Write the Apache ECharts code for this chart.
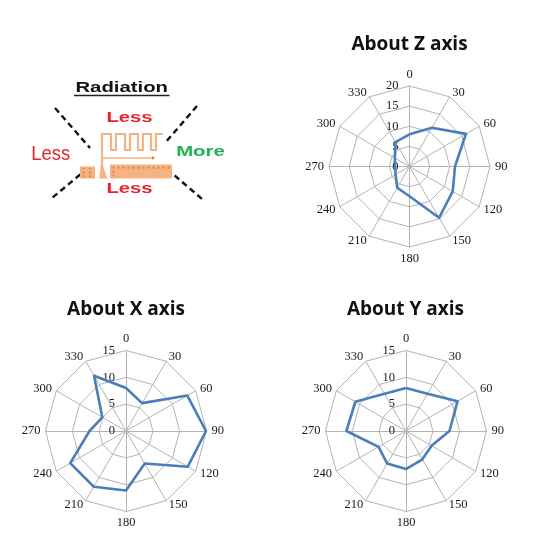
<!DOCTYPE html>
<html>
<head>
<meta charset="utf-8">
<script src="https://cdn.jsdelivr.net/npm/echarts@6/dist/echarts.min.js"></script>
<style>html,body{margin:0;padding:0;background:#fff}#c{width:550px;height:542px}</style>
</head>
<body>
<div id="c"></div>
<script>
// ---- data ----
const angleLabels = ['0','30','60','90','120','150','180','210','240','270','300','330'];
const zTitle = 'About Z axis';
const xTitle = 'About X axis';
const yTitle = 'About Y axis';
const zMax = 20;
const xMax = 15;
const yMax = 15;
const zValues = [8, 11.1, 16.2, 11.3, 12.4, 14.7, 7.4, 6.1, 4.0, 3.6, 4.2, 7.0];
const xValues = [8, 6.0, 13.2, 14.9, 13.3, 7.0, 11.1, 12.0, 12.0, 6.8, 5.1, 11.9];
const yValues = [8, 8.0, 11.1, 8.1, 5.5, 6.1, 7.1, 7.0, 5.9, 11.1, 10.9, 8.0];
const diagramTitle = 'Radiation';
const diagramWords = ['Less', 'Less', 'More', 'Less'];

// ECharts radar runs counter-clockwise; reorder so the chart reads clockwise
const order = angleLabels.map((_, i) => (angleLabels.length - i) % angleLabels.length);

const GRID = '#B4B4B4';
const LINE = '#4A7EBB';
const LABEL_FONT = 'Liberation Serif';

function makeRadar(center, max) {
  return {
    center: center,
    radius: 80.5,
    startAngle: 90,
    shape: 'polygon',
    splitNumber: max / 5,
    indicator: order.map((k, i) => {
      const ind = { name: angleLabels[k], min: 0, max: max };
      if (i === 0) ind.axisLabel = { show: true };
      return ind;
    }),
    axisName: { color: '#1a1a1a', fontFamily: LABEL_FONT, fontSize: 12.5 },
    nameGap: 5,
    splitLine: { lineStyle: { color: GRID, width: 1 } },
    splitArea: { show: false },
    axisLine: { lineStyle: { color: GRID, width: 1 } },
    axisTick: { show: false },
    axisLabel: { show: false, color: '#1a1a1a', fontFamily: LABEL_FONT, fontSize: 12.5, margin: 11 }
  };
}

function makeSeries(idx, values) {
  return {
    type: 'radar',
    radarIndex: idx,
    symbol: 'none',
    silent: true,
    lineStyle: { color: LINE, width: 2.6 },
    data: [{ value: order.map(k => values[k]) }]
  };
}

const ORANGE = '#F5B382';
const DOT = '#E0813E';
const graphics = [];
function txt(text, x, y, font, fill, sx) {
  graphics.push({ type: 'text', x: x, y: y, scaleX: sx || 1, style: { text: text, font: font, fill: fill, align: 'center', verticalAlign: 'middle' } });
}
// chart titles
txt(zTitle, 409.5, 44.5, 'bold 19px "Open Sans"', '#111');
txt(xTitle, 126, 310, 'bold 19px "Open Sans"', '#111');
txt(yTitle, 405.5, 310, 'bold 19px "Open Sans"', '#111');
// diagram
txt(diagramTitle, 121.7, 88.5, 'bold 14px "Liberation Sans"', '#111', 1.45);
graphics.push({ type: 'line', shape: { x1: 74, y1: 95.5, x2: 169.5, y2: 95.5 }, style: { stroke: '#222', lineWidth: 1.3 } });
txt(diagramWords[0], 129.5, 117.5, 'bold 15px "Liberation Sans"', '#E8232B', 1.35);
txt(diagramWords[1], 50.8, 154, '20px "Liberation Sans"', '#E8232B', 0.92);
txt(diagramWords[2], 200.5, 152, 'bold 15px "Liberation Sans"', '#1EAF4E', 1.36);
txt(diagramWords[3], 129.5, 188.5, 'bold 15px "Liberation Sans"', '#E8232B', 1.35);
// dashed lines
[[55,108,90,148],[88,168,52,198],[197,106,165,143],[167,169,202,199]].forEach(s => {
  graphics.push({ type: 'line', shape: { x1: s[0], y1: s[1], x2: s[2], y2: s[3] }, style: { stroke: '#111', lineWidth: 2.4, lineDash: [6, 4] } });
});
// antenna meander
graphics.push({ type: 'polyline', shape: { points: [
  [102,167],[102,134],[111,134],[111,150],[116,150],[116,134],[125,134],[125,150],[130,150],[130,134],
  [138,134],[138,150],[143,150],[143,134],[151,134],[151,150],[156,150],[156,134],[163,134]
] }, style: { stroke: ORANGE, lineWidth: 2.2, fill: null } });
graphics.push({ type: 'line', shape: { x1: 102, y1: 158, x2: 153, y2: 158 }, style: { stroke: ORANGE, lineWidth: 1.6 } });
graphics.push({ type: 'circle', shape: { cx: 153, cy: 158, r: 1.4 }, style: { fill: DOT } });
graphics.push({ type: 'polygon', shape: { points: [[100.8,166],[103.2,166],[107.3,178.5],[99.3,178.5]] }, style: { fill: ORANGE } });
graphics.push({ type: 'rect', shape: { x: 80, y: 166.5, width: 15, height: 12 }, style: { fill: ORANGE } });
graphics.push({ type: 'rect', shape: { x: 110, y: 164.5, width: 62, height: 14 }, style: { fill: ORANGE } });
[[83.5,168.5],[90,168.5],[83.5,172.5],[90,172.5],[83.5,176.3],[90,176.3]].forEach(p => {
  graphics.push({ type: 'circle', shape: { cx: p[0], cy: p[1], r: 1.1 }, style: { fill: DOT } });
});
for (let i = 0; i < 12; i++) {
  graphics.push({ type: 'circle', shape: { cx: 113.5 + i * 5, cy: 167.7, r: 1.1 }, style: { fill: DOT } });
}
[[113.5,171.7],[113.5,175.5]].forEach(p => {
  graphics.push({ type: 'circle', shape: { cx: p[0], cy: p[1], r: 1.1 }, style: { fill: DOT } });
});

const chart = echarts.init(document.getElementById('c'), null, { renderer: 'canvas' });
chart.setOption({
  animation: false,
  backgroundColor: '#fff',
  radar: [
    makeRadar([409.5, 166.5], zMax),
    makeRadar([126, 431], xMax),
    makeRadar([406, 431], yMax)
  ],
  series: [makeSeries(0, zValues), makeSeries(1, xValues), makeSeries(2, yValues)],
  graphic: graphics
});
</script>
</body>
</html>
